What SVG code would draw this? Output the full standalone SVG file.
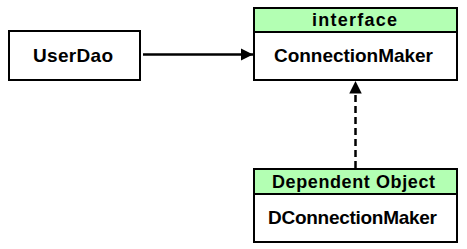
<svg xmlns="http://www.w3.org/2000/svg" width="467" height="249" viewBox="0 0 467 249">
  <style>
    .box { fill: #ffffff; stroke: #000000; stroke-width: 2; }
    .head { fill: #b3ffb3; stroke: #000000; stroke-width: 2; }
    .title { font-family: "Liberation Sans", Arial, sans-serif; font-weight: bold; font-size: 19px; text-anchor: middle; dominant-baseline: central; fill: #000; }
    .stereo { font-family: "Liberation Sans", Arial, sans-serif; font-weight: bold; font-size: 18px; text-anchor: middle; dominant-baseline: central; fill: #000; }
    .edge { stroke: #000000; stroke-width: 2.5; fill: none; }
    .dashed { stroke-dasharray: 7 4; }
  </style>
  <defs>
    <marker id="arrow" viewBox="0 0 10 10" refX="10" refY="5" markerWidth="5" markerHeight="5" orient="auto" markerUnits="strokeWidth">
      <path d="M0,0 L10,5 L0,10 z" fill="#000"/>
    </marker>
  </defs>

  <g id="connectors">
    <line class="edge" x1="143" y1="54.5" x2="253" y2="54.5" marker-end="url(#arrow)"/>
    <line class="edge dashed" x1="355.5" y1="168" x2="355.5" y2="81" marker-end="url(#arrow)"/>
  </g>

  <g id="UserDao">
    <rect class="box" x="9" y="31" width="131" height="49"/>
    <text class="title" x="73" y="55.5" textLength="80" lengthAdjust="spacing">UserDao</text>
  </g>

  <g id="ConnectionMaker">
    <rect class="box" x="254" y="8" width="203" height="72"/>
    <rect class="head" x="254" y="8" width="203" height="24"/>
    <text class="stereo" x="354.5" y="20" textLength="85" lengthAdjust="spacing">interface</text>
    <text class="title" x="353.5" y="55.5" textLength="159" lengthAdjust="spacing">ConnectionMaker</text>
  </g>

  <g id="DConnectionMaker">
    <rect class="box" x="254" y="169" width="203" height="73"/>
    <rect class="head" x="254" y="169" width="203" height="25"/>
    <text class="stereo" x="353.5" y="181.5" textLength="163" lengthAdjust="spacing">Dependent Object</text>
    <text class="title" x="352.5" y="217" textLength="169" lengthAdjust="spacing">DConnectionMaker</text>
  </g>
</svg>
